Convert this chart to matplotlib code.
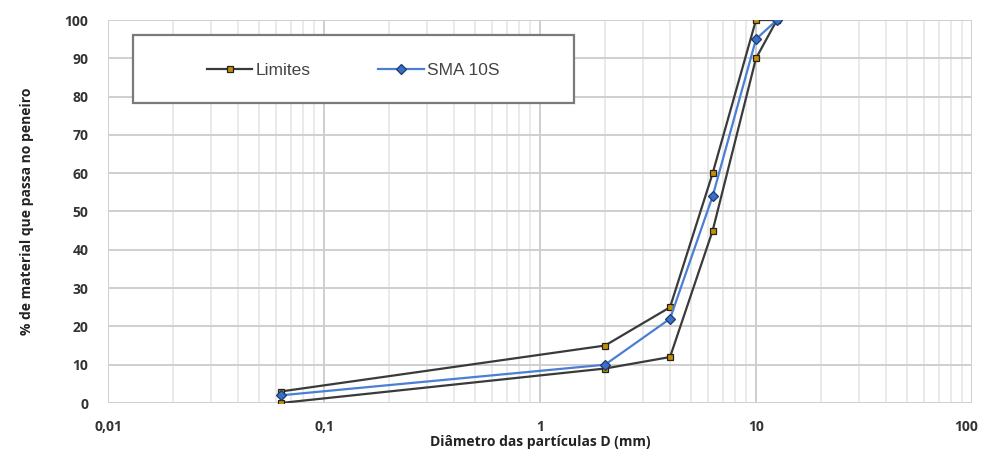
import matplotlib
matplotlib.use("Agg")
import matplotlib.pyplot as plt
from matplotlib.ticker import FixedLocator, NullFormatter, LogLocator
from matplotlib.patches import Rectangle
from matplotlib.transforms import offset_copy

# Data
sieve_limits = [0.063, 2, 4, 6.3, 10, 12.5]
upper_limit = [3, 15, 25, 60, 100, 100]
lower_limit = [0, 9, 12, 45, 90, 100]
sieve_sma = [0.063, 2, 4, 6.3, 10, 12.5]
sma_10s = [2, 10, 22, 54, 95, 100]
x_ticks = [0.01, 0.1, 1, 10, 100]
x_ticklabels = ["0,01", "0,1", "1", "10", "100"]
y_ticks = list(range(0, 101, 10))

fig = plt.figure(figsize=(9.81, 4.61), dpi=100)
ax = fig.add_axes([108/981, (461-403)/461, 864/981, 383/461])

lim_col = "#3a3a3a"
lim_mk = "#c58f00"
sma_col = "#4a7fd4"

ax.plot(sieve_limits, upper_limit, color=lim_col, lw=1.6, marker="s", ms=4.5,
        mfc=lim_mk, mec="#222222", mew=0.9, label="Limites", zorder=3)
ax.plot(sieve_limits, lower_limit, color=lim_col, lw=1.6, marker="s", ms=4.5,
        mfc=lim_mk, mec="#222222", mew=0.9, zorder=3)
ax.plot(sieve_sma, sma_10s, color=sma_col, lw=1.6, marker="D", ms=5.5,
        mfc="#3a6fc8", mec="#1f3a6a", mew=0.9, label="SMA 10S", zorder=4)

ax.set_xscale("log")
ax.set_xlim(0.01, 100)
ax.set_ylim(0, 100)
ax.xaxis.set_major_locator(FixedLocator(x_ticks))
ax.set_xticklabels(x_ticklabels)
ax.xaxis.set_minor_locator(LogLocator(base=10, subs=range(2, 10)))
ax.xaxis.set_minor_formatter(NullFormatter())
ax.set_yticks(y_ticks)

ax.grid(True, which="major", color="#cfcfcf", lw=1.4)
ax.grid(True, which="minor", axis="x", color="#e6e6e6", lw=1.2)
ax.set_axisbelow(True)
for s in ax.spines.values():
    s.set_visible(False)
ax.tick_params(which="both", length=0)
ax.tick_params(axis="x", pad=12)
ax.tick_params(axis="y", pad=14)

for lbl in ax.get_xticklabels() + ax.get_yticklabels():
    lbl.set_fontfamily("Open Sans")
    lbl.set_fontweight("bold")
    lbl.set_fontsize(10)
    lbl.set_color("#333333")

# keep the last x label inside the figure
last = ax.get_xticklabels()[-1]
last.set_transform(offset_copy(last.get_transform(), fig=fig, x=-6, units="dots"))

ax.set_xlabel("Diâmetro das partículas D (mm)", fontfamily="Open Sans",
              fontweight="bold", fontsize=10, color="#222222", labelpad=1)
ax.set_ylabel("% de material que passa no peneiro", fontfamily="Open Sans",
              fontweight="bold", fontsize=10, color="#222222", labelpad=22)

# legend box
box = Rectangle((0.029, 0.783), 0.51, 0.178, transform=ax.transAxes,
                facecolor="white", edgecolor="#7a7a7a", lw=1.6, zorder=5)
ax.add_patch(box)
leg = ax.legend(loc="center", bbox_to_anchor=(0.029 + 0.255, 0.868),
                ncol=2, frameon=False,
                prop={"family": "Liberation Sans", "size": 12.5},
                handlelength=2.6, columnspacing=3.9, handletextpad=0.2)
leg.set_zorder(6)
for t in leg.get_texts():
    t.set_color("#444444")

fig.savefig("out.png", dpi=100)
